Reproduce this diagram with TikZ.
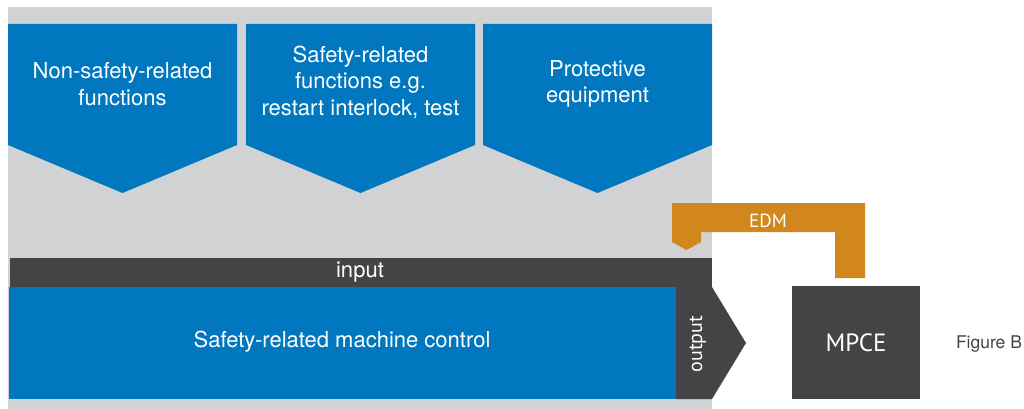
\documentclass[tikz,border=0pt]{standalone}
\usepackage{fontspec}
\setmainfont{TeX Gyre Heros}
\newfontfamily\edmfont{PT Sans}
\usetikzlibrary{positioning}
\definecolor{ctrlblue}{RGB}{0,119,190}
\definecolor{bggray}{RGB}{209,210,212}
\definecolor{darkbar}{RGB}{69,67,70}
\definecolor{edmorange}{RGB}{209,135,28}

\begin{document}
\begin{tikzpicture}[x=1pt,y=-1pt]
        \tikzstyle{ftext} = [text=white, align=center, inner sep=0pt, font=\fontsize{22}{26.5}\selectfont]
        \tikzstyle{mtext} = [text=white, inner sep=0pt, font=\edmfont\fontsize{20}{24}\selectfont]
        \useasboundingbox (0,0) rectangle (1024,409);
        \fill[bggray] (8,7) rectangle (712,409);

        % function boxes
        \fill[ctrlblue] (8,24) -- (237,24) -- (237,145) -- (122.5,193) -- (8,145) -- cycle;
        \fill[ctrlblue] (246,24) -- (475,24) -- (475,145) -- (360.5,193) -- (246,145) -- cycle;
        \fill[ctrlblue] (483,24) -- (712,24) -- (712,145) -- (597.5,193) -- (483,145) -- cycle;
        \node[ftext] (nsf) at (122.5,84) {Non-safety-related\\functions};
        \node[ftext] (srf) at (360.5,82) {Safety-related\\functions e.g.\\restart interlock, test};
        \node[ftext] (pe) at (597.5,84) {Protective\\equipment};

        % control
        \fill[darkbar] (10,258) rectangle (712,287);
        \node[ftext] (in) at (360,272) {input};
        \fill[ctrlblue] (9,287) rectangle (676,399);
        \node[ftext] (ctrl) at (342,342) {Safety-related machine control};
        \fill[darkbar] (676,287) -- (712,287) -- (746,343) -- (712,399) -- (676,399) -- cycle;
        \node[mtext, rotate=90] (out) at (698,344) {output};

        % feedback
        \fill[edmorange] (672,203) -- (865,203) -- (865,278) -- (835,278) -- (835,232)
          -- (701,232) -- (701,242) -- (686.5,250) -- (672,242) -- cycle;
        \node[mtext, font=\edmfont\fontsize{19}{22}\selectfont] (edm) at (768,221) {EDM};

        \fill[darkbar] (792,286) rectangle (920,399);
        \node[mtext, font=\edmfont\fontsize{25}{28}\selectfont] (mpce) at (856,343) {MPCE};
        \node[text=darkbar, inner sep=0pt, font=\fontsize{17.5}{20}\selectfont] (fig) at (989,344) {Figure B};
      \end{tikzpicture}
\end{document}
